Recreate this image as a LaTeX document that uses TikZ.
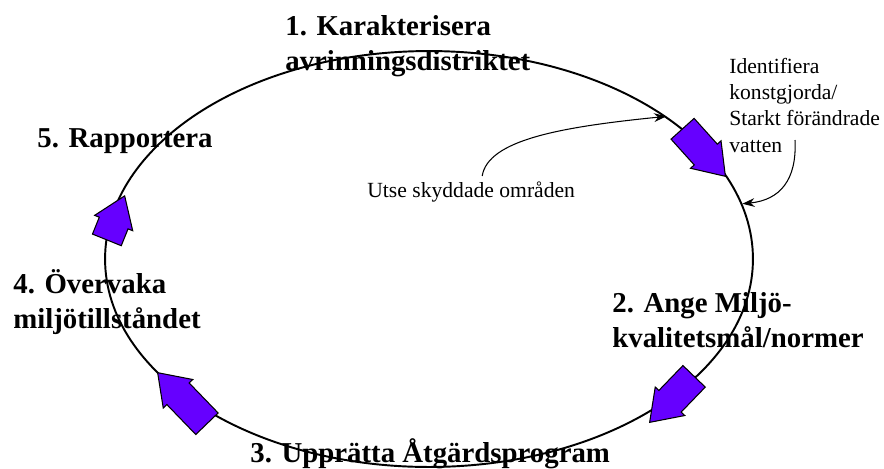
\documentclass[tikz,border=0pt]{standalone}
\usepackage{fontspec}
\setmainfont{Liberation Serif}
\definecolor{arrowviolet}{HTML}{6600FF}
\usepackage{tikz}
\usetikzlibrary{shapes.geometric, shapes.arrows, arrows.meta}

\begin{document}
\begin{tikzpicture}[x=0.02cm, y=-0.02cm,
  stage/.style={font=\fontsize{16.4}{19.8}\selectfont\bfseries, align=left,
                inner sep=0pt, anchor=base west},
  note/.style={font=\fontsize{12.3}{14.9}\selectfont, align=left,
               inner sep=0pt, anchor=base west},
  blockarrow/.style={single arrow, draw=black, fill=arrowviolet, line width=0.6pt,
                     inner xsep=0pt, inner ysep=0.3cm, single arrow head extend=0.1cm,
                     single arrow tip angle=70, anchor=tip},
  hint/.style={-{Stealth[length=7pt,width=5pt]}, line width=0.6pt},
]
\useasboundingbox (0,0) rectangle (884,468);

\node[ellipse, draw, line width=1.1pt, minimum width=12.96cm, minimum height=8.32cm,
      inner sep=0pt] (ring) at (429,259) {};

\node[blockarrow, minimum height=1.28cm, rotate=-48]  (a1) at (726,177) {};
\node[blockarrow, minimum height=1.28cm, rotate=-134] (a2) at (649,423) {};
\node[blockarrow, minimum height=1.42cm, rotate=134]  (a3) at (157,372) {};
\node[blockarrow, minimum height=0.95cm, rotate=68]   (a4) at (125,195) {};

\node[stage] (s1) at (285,70)  {1. Karakterisera\\avrinningsdistriktet};
\node[stage] (s2) at (612,347) {2. Ange Miljö-\\kvalitetsmål/normer};
\node[stage] (s3) at (250,462) {3. Upprätta Åtgärdsprogram};
\node[stage] (s4) at (13,328)  {4. Övervaka\\miljötillståndet};
\node[stage] (s5) at (37,147)  {5. Rapportera};

\node[note] (utse)  at (367,197) {Utse skyddade områden};
\node[note] (ident) at (729,152) {Identifiera\\konstgjorda/\\Starkt förändrade\\vatten};
\coordinate (identfoot) at (795,140);

\draw[hint] ([shift={(11,-5)}]utse.north) .. controls (488,140) and (560,127) .. (ring.31);
\draw[hint] (identfoot) .. controls (797,180) and (780,200) .. (ring.10);
\end{tikzpicture}
\end{document}
